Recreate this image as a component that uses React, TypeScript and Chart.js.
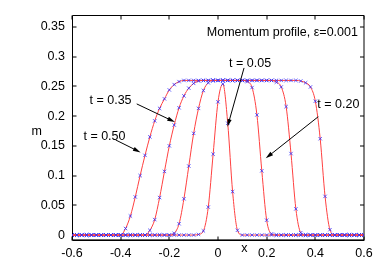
import React, { useEffect, useRef } from 'react';
import { Chart, registerables } from 'chart.js';

Chart.register(...registerables);

// Shared x grid (61 nodes)
const X_GRID = [
  -0.6, -0.58, -0.56, -0.54, -0.52, -0.5, -0.48, -0.46, -0.44, -0.42,
  -0.4, -0.38, -0.36, -0.34, -0.32, -0.3, -0.28, -0.26, -0.24, -0.22,
  -0.2, -0.18, -0.16, -0.14, -0.12, -0.1, -0.08, -0.06, -0.04, -0.02,
  0, 0.02, 0.04, 0.06, 0.08, 0.1, 0.12, 0.14, 0.16, 0.18,
  0.2, 0.22, 0.24, 0.26, 0.28, 0.3, 0.32, 0.34, 0.36, 0.38,
  0.4, 0.42, 0.44, 0.46, 0.48, 0.5, 0.52, 0.54, 0.56, 0.58, 0.6,
];

const M_T005 = [
  0, 0, 0, 0, 0, 0, 0, 0, 0, 0,
  0, 0, 0, 0, 0, 0, 0, 0, 0, 0,
  0, 0, 0, 0, 0, 0, 0.001, 0.007, 0.047, 0.136,
  0.224, 0.254, 0.188, 0.073, 0.008, 0, 0, 0, 0, 0,
  0, 0, 0, 0, 0, 0, 0, 0, 0, 0,
  0, 0, 0, 0, 0, 0, 0, 0, 0, 0, 0,
];

const M_T020 = [
  0, 0, 0, 0, 0, 0, 0, 0, 0, 0,
  0, 0, 0, 0, 0, 0, 0, 0, 0, 0,
  0, 0.003, 0.019, 0.061, 0.116, 0.171, 0.213, 0.243, 0.256, 0.26,
  0.26, 0.26, 0.26, 0.26, 0.26, 0.26, 0.258, 0.248, 0.202, 0.108,
  0.025, 0.002, 0, 0, 0, 0, 0, 0, 0, 0,
  0, 0, 0, 0, 0, 0, 0, 0, 0, 0, 0,
];

const M_T035 = [
  0, 0, 0, 0, 0, 0, 0, 0, 0, 0,
  0, 0, 0, 0, 0, 0, 0.008, 0.026, 0.063, 0.107,
  0.15, 0.185, 0.214, 0.234, 0.247, 0.255, 0.259, 0.26, 0.26, 0.26,
  0.26, 0.26, 0.26, 0.26, 0.26, 0.26, 0.26, 0.26, 0.26, 0.26,
  0.26, 0.26, 0.257, 0.249, 0.216, 0.137, 0.044, 0.004, 0, 0,
  0, 0, 0, 0, 0, 0, 0, 0, 0, 0, 0,
];

const M_T050 = [
  0, 0, 0, 0, 0, 0, 0, 0, 0, 0,
  0, 0.011, 0.032, 0.064, 0.1, 0.134, 0.165, 0.192, 0.213, 0.229,
  0.244, 0.253, 0.258, 0.26, 0.26, 0.26, 0.26, 0.26, 0.26, 0.26,
  0.26, 0.26, 0.26, 0.26, 0.26, 0.26, 0.26, 0.26, 0.26, 0.26,
  0.26, 0.26, 0.26, 0.26, 0.26, 0.26, 0.26, 0.259, 0.256, 0.249,
  0.225, 0.162, 0.065, 0.009, 0, 0, 0, 0, 0, 0, 0,
];

const SERIES = [M_T005, M_T020, M_T035, M_T050];

const X_TICKS = [-0.6, -0.4, -0.2, 0, 0.2, 0.4, 0.6];
const Y_TICKS = [0, 0.05, 0.1, 0.15, 0.2, 0.25, 0.3, 0.35];

const TITLE = 'Momentum profile, ε=0.001';
const TITLE_POS = [0.575, 0.34];

const LABEL_TEXTS = ['t = 0.05', 't = 0.20', 't = 0.35', 't = 0.50'];
const LABEL_POS = [
  [0.132, 0.288, 'center'],
  [0.408, 0.219, 'left'],
  [-0.528, 0.227, 'left'],
  [-0.553, 0.165, 'left'],
];
const ARROW_FROM = [
  [0.107, 0.281],
  [0.412, 0.199],
  [-0.334, 0.2205],
  [-0.421, 0.16],
];
const ARROW_TO = [
  [0.039, 0.182],
  [0.196, 0.129],
  [-0.177, 0.19],
  [-0.318, 0.139],
];

const FONT = '12.5px "Liberation Sans", Arial, Helvetica, sans-serif';

const gnuplotPlugin = {
  id: 'gnuplotFrame',
  beforeDatasetsDraw(chart: any) {
    const { ctx, chartArea: a, scales } = chart;
    const xs = scales.x;
    const ys = scales.y;
    ctx.save();
    ctx.strokeStyle = '#000';
    ctx.lineWidth = 1;
    const L = Math.round(a.left) + 0.5;
    const R = Math.round(a.right);
    const T = Math.round(a.top) + 0.5;
    const B = Math.round(a.bottom) - 0.5;
    ctx.beginPath();
    ctx.moveTo(L, T);
    ctx.lineTo(R, T);
    ctx.lineTo(R, B);
    ctx.lineTo(L, B);
    ctx.closePath();
    ctx.stroke();
    ctx.beginPath();
    ctx.moveTo(L, B - 1);
    ctx.lineTo(R, B - 1);
    ctx.lineWidth = 0.6;
    ctx.stroke();
    ctx.lineWidth = 1;
    const tl = 4;
    ctx.beginPath();
    X_TICKS.forEach((v) => {
      const px = Math.round(xs.getPixelForValue(v));
      ctx.moveTo(px, B);
      ctx.lineTo(px, B - tl);
      ctx.moveTo(px, T);
      ctx.lineTo(px, T + tl);
    });
    Y_TICKS.forEach((v) => {
      const py = Math.round(ys.getPixelForValue(v));
      ctx.moveTo(L, py);
      ctx.lineTo(L + tl, py);
      ctx.moveTo(R, py);
      ctx.lineTo(R - tl, py);
    });
    ctx.stroke();
    ctx.restore();
  },
  afterDatasetsDraw(chart: any) {
    const { ctx, chartArea: a, scales } = chart;
    const xs = scales.x;
    const ys = scales.y;
    ctx.save();
    ctx.font = FONT;
    ctx.fillStyle = '#000';
    ctx.textBaseline = 'middle';
    // title
    ctx.textAlign = 'right';
    ctx.fillText(TITLE, xs.getPixelForValue(TITLE_POS[0]), ys.getPixelForValue(TITLE_POS[1]));
    // labels
    LABEL_TEXTS.forEach((t, i) => {
      const p = LABEL_POS[i];
      ctx.textAlign = p[2] as CanvasTextAlign;
      ctx.fillText(t, xs.getPixelForValue(p[0] as number), ys.getPixelForValue(p[1] as number));
    });
    // axis titles
    ctx.textAlign = 'center';
    ctx.fillText('m', a.left - 35.3, ys.getPixelForValue(0.174));
    ctx.fillText('x', xs.getPixelForValue(0.108), a.bottom + 7.5);
    // arrows
    ctx.strokeStyle = '#000';
    ctx.lineWidth = 1;
    ARROW_FROM.forEach((f, i) => {
      const t = ARROW_TO[i];
      const x1 = xs.getPixelForValue(f[0]);
      const y1 = ys.getPixelForValue(f[1]);
      const x2 = xs.getPixelForValue(t[0]);
      const y2 = ys.getPixelForValue(t[1]);
      const ang = Math.atan2(y2 - y1, x2 - x1);
      const hl = 8;
      const hw = 0.27;
      ctx.beginPath();
      ctx.moveTo(x1, y1);
      ctx.lineTo(x2 - Math.cos(ang) * 4, y2 - Math.sin(ang) * 4);
      ctx.stroke();
      ctx.beginPath();
      ctx.moveTo(x2, y2);
      ctx.lineTo(x2 - hl * Math.cos(ang - hw), y2 - hl * Math.sin(ang - hw));
      ctx.lineTo(x2 - hl * Math.cos(ang + hw), y2 - hl * Math.sin(ang + hw));
      ctx.closePath();
      ctx.fill();
    });
    ctx.restore();
  },
};

function fmt(v: number) {
  return String(Math.round(v * 1000) / 1000);
}

export default function App() {
  const ref = useRef<HTMLCanvasElement | null>(null);
  useEffect(() => {
    if (!ref.current) return;
    const chart = new Chart(ref.current, {
      type: 'line',
      data: {
        datasets: SERIES.map((s) => ({
          data: s.map((y, i) => ({ x: X_GRID[i], y })),
          borderColor: '#ff4040',
          borderWidth: 1,
          cubicInterpolationMode: 'monotone' as const,
          pointStyle: 'crossRot' as const,
          pointRadius: 2.4,
          pointBorderColor: 'rgba(40,40,255,0.75)',
          pointBackgroundColor: 'rgba(40,40,255,0.75)',
          pointBorderWidth: 1,
          pointHoverRadius: 2.4,
          fill: false,
        })),
      },
      options: {
        animation: false,
        responsive: false,
        events: [],
        layout: { padding: { top: 15, right: 18, left: 0, bottom: 0 } },
        plugins: {
          legend: { display: false },
          tooltip: { enabled: false },
          title: { display: false },
        },
        scales: {
          x: {
            type: 'linear',
            min: -0.6,
            max: 0.6,
            grid: { display: false, drawTicks: false },
            border: { display: false },
            afterBuildTicks: (s: any) => {
              s.ticks = X_TICKS.map((v) => ({ value: v }));
            },
            afterFit: (s: any) => {
              s.height = 26;
            },
            ticks: {
              color: '#000',
              padding: 5,
              maxRotation: 0,
              autoSkip: false,
              font: { family: '"Liberation Sans", Arial, sans-serif', size: 12.5 },
              callback: (v: any) => fmt(Number(v)),
            },
          },
          y: {
            type: 'linear',
            min: -0.01,
            max: 0.37,
            grid: { display: false, drawTicks: false },
            border: { display: false },
            afterBuildTicks: (s: any) => {
              s.ticks = Y_TICKS.map((v) => ({ value: v }));
            },
            afterFit: (s: any) => {
              s.width = 72;
            },
            ticks: {
              color: '#000',
              padding: 7,
              autoSkip: false,
              font: { family: '"Liberation Sans", Arial, sans-serif', size: 12.5 },
              callback: (v: any) => fmt(Number(v)),
            },
          },
        },
      },
      plugins: [gnuplotPlugin],
    });
    return () => chart.destroy();
  }, []);
  return (
    <div style={{ position: 'absolute', left: 0, top: 0, width: 382, height: 267, background: '#fff' }}>
      <canvas ref={ref} width={382} height={267} />
    </div>
  );
}
